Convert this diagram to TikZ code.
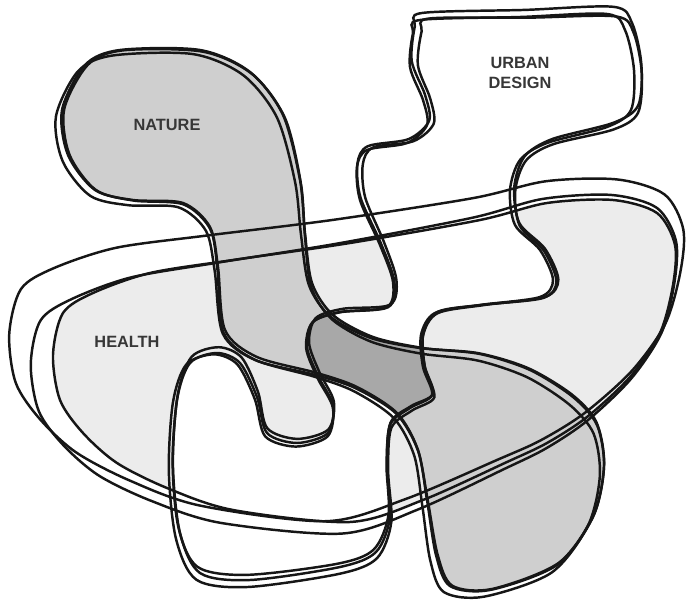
\documentclass[tikz,border=0pt]{standalone}
\usepackage{fontspec}
\newfontfamily\labelfont{Liberation Sans}
\usepackage{tikz}
\usetikzlibrary{positioning}
\definecolor{healthgray}{RGB}{236,236,236}
\definecolor{naturegray}{RGB}{207,207,207}
\definecolor{overlapgray}{RGB}{168,168,168}
\definecolor{inkblack}{RGB}{22,22,22}
\definecolor{labelgray}{RGB}{55,55,55}

% duong vien ba vung (toa do tinh theo pixel)
\newcommand{\healthpath}{plot[smooth cycle] coordinates {(53,355) (63,313) (93,293) (150,273) (233,260) (350,243) (480,220) (547,203) (613,200) (657,213) (675,245) (673,285) (660,333) (630,377) (587,417) (547,443) (507,462) (423,500) (350,522) (233,510) (167,488) (117,463) (83,433) (60,400)}}
\newcommand{\naturepath}{plot[smooth cycle] coordinates {(62,110) (85,65) (120,50) (200,50) (250,72) (283,115) (300,180) (305,233) (312,283) (333,315) (373,337) (423,348) (480,354) (530,370) (573,397) (597,425) (604,467) (593,517) (557,565) (490,590) (450,586) (436,555) (427,500) (418,450) (397,413) (357,387) (317,373) (257,357) (225,330) (218,267) (210,227) (183,203) (133,200) (95,190) (68,155)}}
\newcommand{\urbanpath}{plot[smooth cycle] coordinates {(420,20) (520,17) (607,14) (625,30) (634,70) (631,110) (607,127) (547,143) (520,160) (510,190) (515,225) (540,250) (553,280) (540,297) (480,305) (435,313) (421,335) (423,367) (432,395) (410,408) (390,425) (387,467) (390,517) (376,552) (340,567) (250,580) (200,573) (180,533) (173,467) (177,400) (190,363) (217,353) (240,363) (257,397) (267,433) (297,443) (328,433) (333,405) (318,376) (307,347) (313,322) (340,312) (387,307) (393,282) (380,245) (360,200) (357,167) (367,150) (407,143) (427,125) (423,100) (410,67) (413,33)}}

\begin{document}
\begin{tikzpicture}[x=0.02cm, y=-0.02cm,
    sketch/.style={draw=inkblack, line width=1.4pt},
    lbl/.style={font=\labelfont\bfseries\fontsize{9.3}{11.3}\selectfont, text=labelgray, align=center, inner sep=0pt}]
    \useasboundingbox (0,0) rectangle (687,608);

    % nen cac vung
    \fill[healthgray] \healthpath;
    \begin{scope}
        \clip \healthpath;
        \fill[white] \urbanpath; % health + urban de trang
    \end{scope}
    \fill[naturegray] \naturepath;
    \begin{scope}
        \clip \naturepath;
        \fill[overlapgray] \urbanpath; % phan giao dam nhat
    \end{scope}

    % health: ve ba lan cho giong net tay
    \draw[sketch] \healthpath;
    \draw[sketch, rotate around={0.8:(620,330)}, shift={(620,330)}, scale=1.04, shift={(-620,-330)}] \healthpath;
    \draw[sketch, shift={(2,-10)}, rotate around={-1.2:(620,330)}, shift={(620,330)}, scale=1.08, shift={(-620,-330)}] \healthpath;

    % nature
    \draw[sketch] \naturepath;
    \draw[sketch, rotate around={1:(430,460)}] \naturepath;
    \draw[sketch, rotate around={-1:(160,120)}, shift={(2,1)}] \naturepath;

    % urban design
    \draw[sketch] \urbanpath;
    \draw[sketch, rotate around={-1.2:(400,300)}, shift={(3,-2)}] \urbanpath;
    \draw[sketch, shift={(340,300)}, scale=1.025, shift={(-340,-300)}] \urbanpath;

    % nhan
    \node[lbl] (nature) at (167,125) {NATURE};
    \node[lbl] (health) at (127,342) {HEALTH};
    \node[lbl] (urban) at (520,73) {URBAN\\DESIGN};
\end{tikzpicture}
\end{document}
